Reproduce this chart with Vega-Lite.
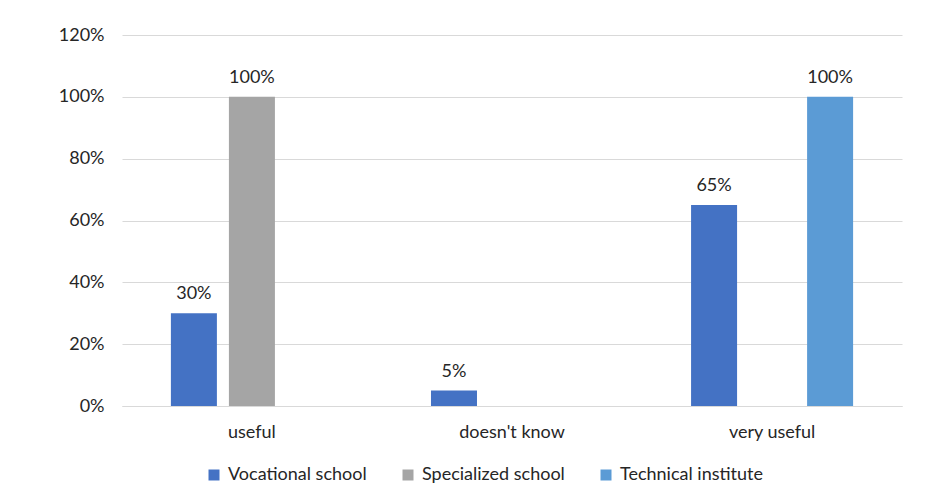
{
  "$schema": "https://vega.github.io/schema/vega-lite/v6.json",
  "width": 780,
  "height": 371,
  "autosize": "none",
  "padding": {"left": 122, "top": 35, "right": 49, "bottom": 97},
  "background": "white",
  "config": {
    "view": {"stroke": null},
    "font": "Lato",
    "axis": {"labelFont": "Lato", "labelColor": "#262626", "labelFontSize": 18},
    "legend": {"labelFont": "Lato", "labelColor": "#262626", "labelFontSize": 18}
  },
  "data": {
    "values": [
      {"category": "useful", "school": "Vocational school", "value": 0.30},
      {"category": "useful", "school": "Specialized school", "value": 1.00},
      {"category": "doesn't know", "school": "Vocational school", "value": 0.05},
      {"category": "very useful", "school": "Vocational school", "value": 0.65},
      {"category": "very useful", "school": "Technical institute", "value": 1.00}
    ]
  },
  "encoding": {
    "x": {
      "field": "category",
      "type": "nominal",
      "sort": ["useful", "doesn't know", "very useful"],
      "scale": {"paddingInner": 0.377, "paddingOuter": 0.188},
      "axis": {"title": null, "labelAngle": 0, "ticks": false, "domainColor": "#D9D9D9", "domainWidth": 1, "labelPadding": 17}
    },
    "xOffset": {
      "field": "school",
      "type": "nominal",
      "scale": {"domain": ["Vocational school", "Specialized school", "Technical institute"], "paddingInner": 0.207, "paddingOuter": 0}
    },
    "y": {
      "field": "value",
      "type": "quantitative",
      "scale": {"domain": [0, 1.2], "nice": false},
      "axis": {"title": null, "format": ".0%", "values": [0, 0.2, 0.4, 0.6, 0.8, 1.0, 1.2], "ticks": false, "domain": false, "gridColor": "#D9D9D9", "labelPadding": 18}
    }
  },
  "layer": [
    {
      "mark": {"type": "bar"},
      "encoding": {
        "color": {
          "field": "school",
          "type": "nominal",
          "scale": {"domain": ["Vocational school", "Specialized school", "Technical institute"], "range": ["#4472C4", "#A5A5A5", "#5B9BD5"]},
          "legend": {"title": null, "orient": "none", "legendX": 83, "legendY": 431, "direction": "horizontal", "symbolType": "square", "symbolSize": 121, "symbolStrokeWidth": 0, "columnPadding": 32, "labelOffset": 5, "labelLimit": 300}
        }
      }
    },
    {
      "mark": {"type": "text", "baseline": "bottom", "dy": -10, "fontSize": 18, "color": "#262626"},
      "encoding": {
        "text": {"field": "value", "type": "quantitative", "format": ".0%"}
      }
    }
  ]
}
